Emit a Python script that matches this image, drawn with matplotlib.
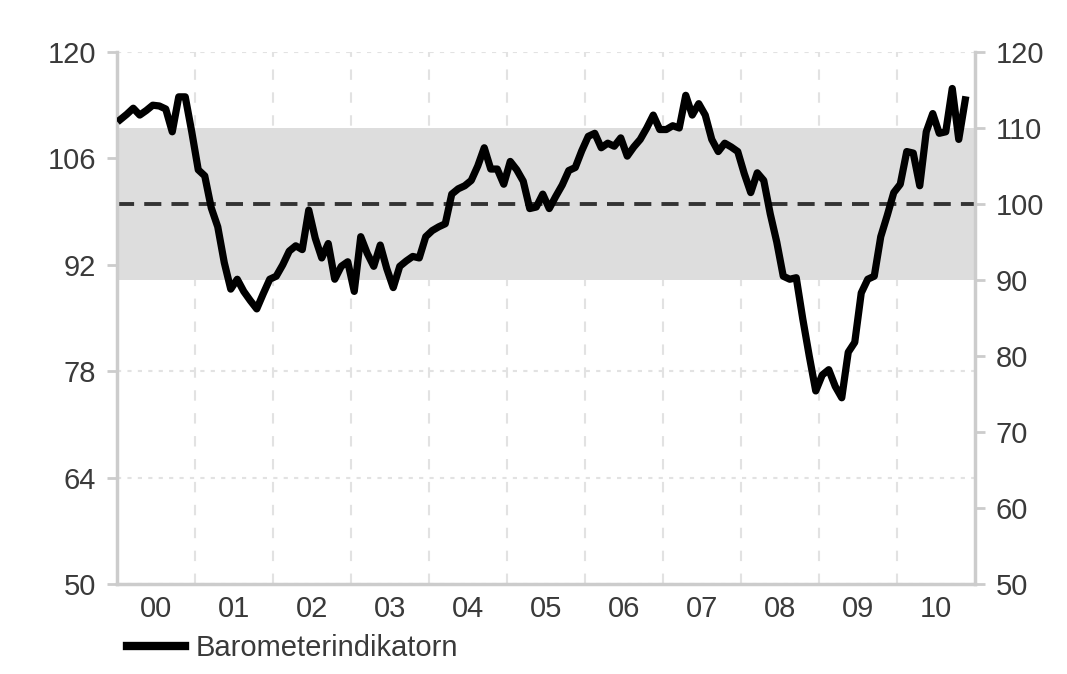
import numpy as np
import matplotlib
matplotlib.use("Agg")
import matplotlib.pyplot as plt

# monthly barometer values, Jan 2000 .. Nov 2010
barometer = [
    111.1, 111.8, 112.6, 111.7, 112.3, 113.0, 112.9, 112.5, 109.5, 114.1, 114.1, 109.5,   # 2000
    104.5, 103.7, 99.5, 97.0, 92.3, 88.8, 90.1, 88.5, 87.3, 86.2, 88.2, 90.1,              # 2001
    90.5, 92.0, 93.8, 94.5, 94.0, 99.2, 95.5, 92.9, 94.8, 90.1, 91.8, 92.4,                # 2002
    88.5, 95.7, 93.5, 91.8, 94.6, 91.5, 89.0, 91.8, 92.5, 93.1, 92.9, 95.7,                # 2003
    96.5, 97.0, 97.4, 101.3, 102.0, 102.4, 103.1, 105.0, 107.4, 104.6, 104.6, 102.6,       # 2004
    105.6, 104.5, 103.0, 99.4, 99.6, 101.3, 99.4, 101.0, 102.5, 104.4, 104.8, 107.0,       # 2005
    108.9, 109.3, 107.4, 108.0, 107.6, 108.7, 106.3, 107.5, 108.5, 110.0, 111.7, 109.8,    # 2006
    109.8, 110.3, 110.0, 114.3, 111.7, 113.2, 111.7, 108.5, 106.9, 108.0, 107.5, 106.9,    # 2007
    104.0, 101.5, 104.1, 103.1, 98.7, 95.0, 90.5, 90.1, 90.3, 84.9, 80.0, 75.4,            # 2008
    77.5, 78.2, 76.0, 74.5, 80.5, 81.8, 88.3, 90.1, 90.5, 95.7, 98.5, 101.5,               # 2009
    102.6, 106.9, 106.7, 102.4, 109.5, 111.9, 109.3, 109.5, 115.2, 108.5, 113.7,           # 2010
]
start_year = 2000
year_labels = ["00", "01", "02", "03", "04", "05", "06", "07", "08", "09", "10"]
left_ticks = [50, 64, 78, 92, 106, 120]
right_ticks = [50, 60, 70, 80, 90, 100, 110, 120]
band_low, band_high = 90, 110
neutral = 100

plt.rcParams['font.family'] = ['Liberation Sans', 'DejaVu Sans']

months = start_year + (np.arange(len(barometer)) + 0.5) / 12.0

fig = plt.figure(figsize=(10.67, 6.74), dpi=100)
ax = fig.add_axes([117 / 1067, 1 - 584 / 674, (975 - 117) / 1067, (584 - 52) / 674])

axis_grey = "#cccccc"
text_grey = "#3a3a3a"

ax.axhspan(band_low, band_high, color="#dddddd", zorder=1, lw=0)
ax.axhline(neutral, color="#333333", lw=2.8, dashes=(4.4, 2.6), zorder=2)
ax.plot(months, barometer, color="black", lw=5.2, zorder=3,
        solid_joinstyle="round", label="Barometerindikatorn")

ax.set_xlim(start_year, start_year + len(year_labels))
ax.set_ylim(50, 120)

# year boundaries -> grid, year centres -> labels
ax.set_xticks(np.arange(start_year + 1, start_year + len(year_labels)))
ax.set_xticklabels([])
ax.set_xticks(np.arange(len(year_labels)) + start_year + 0.5, minor=True)
ax.set_xticklabels(year_labels, minor=True)
ax.tick_params(axis="x", which="both", length=0, pad=8, labelsize=21, labelcolor=text_grey)

ax.set_yticks(left_ticks)
ax.tick_params(axis="y", length=7, width=2, color=axis_grey, pad=8,
               labelsize=21, labelcolor=text_grey)

ax.set_axisbelow(True)
ax.xaxis.grid(True, which="major", color="#e2e2e2", lw=1.5, dashes=(5, 6))
ax.yaxis.grid(True, color="#e2e2e2", lw=1.5, dashes=(2, 3))

for side in ["left", "bottom"]:
    ax.spines[side].set_color(axis_grey)
    ax.spines[side].set_linewidth(2.5)
ax.spines["top"].set_visible(False)
ax.spines["right"].set_visible(False)

ax2 = ax.twinx()
ax2.set_ylim(50, 120)
ax2.set_yticks(right_ticks)
ax2.tick_params(axis="y", length=7, width=2, color=axis_grey, pad=8,
                labelsize=21, labelcolor=text_grey)
ax2.spines["right"].set_color(axis_grey)
ax2.spines["right"].set_linewidth(2.5)
for side in ["left", "top", "bottom"]:
    ax2.spines[side].set_visible(False)

ax.legend(loc="center left", bbox_to_anchor=(127 / 1067, 1 - 648 / 674),
          bbox_transform=fig.transFigure, frameon=False, fontsize=21,
          handlelength=2.0, handletextpad=0.35, borderpad=0, borderaxespad=0,
          labelcolor=text_grey)
leg_line = ax.get_legend().get_lines()[0]
leg_line.set_linewidth(6)

fig.savefig("out.png", dpi=100)
